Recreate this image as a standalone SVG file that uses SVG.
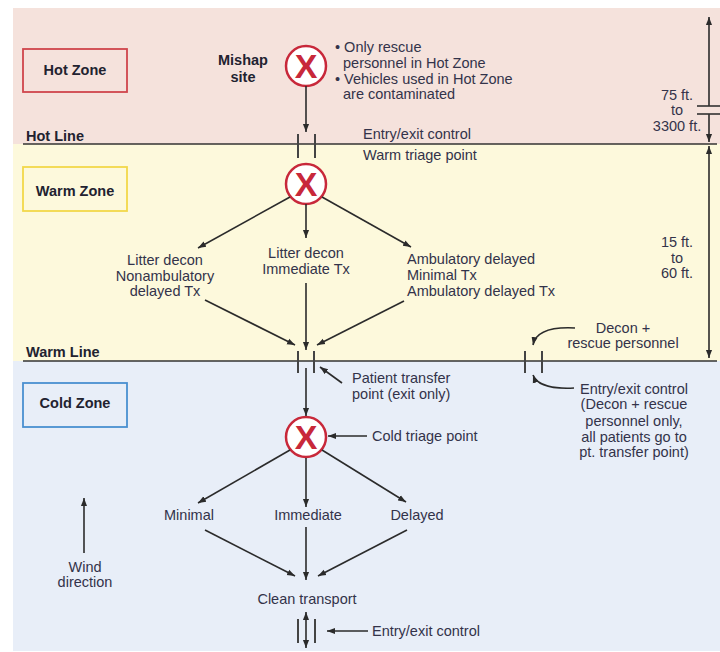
<svg xmlns="http://www.w3.org/2000/svg" width="720" height="652" viewBox="0 0 720 652">
  <defs>
    <marker id="head" viewBox="0 0 10 10" refX="10" refY="5" markerWidth="8" markerHeight="8" markerUnits="userSpaceOnUse" orient="auto">
      <path d="M0,1.2 L10,5 L0,8.8 z" fill="#2b2b2b"/>
    </marker>
    <marker id="headStart" viewBox="0 0 10 10" refX="0" refY="5" markerWidth="8" markerHeight="8" markerUnits="userSpaceOnUse" orient="auto">
      <path d="M10,1.2 L0,5 L10,8.8 z" fill="#2b2b2b"/>
    </marker>
  </defs>
  <style>
    text { font-family: "Liberation Sans", Arial, sans-serif; font-size: 14.5px; fill: #33334a; }
    .b { font-weight: bold; fill: #222230; }
    .m { text-anchor: middle; }
    .zone { fill: none; stroke-width: 1.8; }
    .line { stroke: #333; stroke-width: 1.6; fill: none; }
    .bar { stroke: #444; stroke-width: 2; }
    .arrow { stroke: #2b2b2b; stroke-width: 1.6; fill: none; marker-end: url(#head); }
    .site { fill: #fff; stroke: #c8283a; stroke-width: 2.5; }
    .x { font-weight: bold; font-size: 34px; fill: #c8283a; text-anchor: middle; }
  </style>

  <!-- zone backgrounds -->
  <rect x="13" y="8" width="707" height="136" fill="#f5e2dc"/>
  <rect x="13" y="144" width="707" height="217" fill="#fdf9dc"/>
  <rect x="13" y="361" width="707" height="290" fill="#e8eef8"/>

  <!-- zone boundary lines -->
  <line class="line" x1="23" y1="144" x2="717" y2="144"/>
  <line class="line" x1="23" y1="361" x2="717" y2="361"/>
  <text class="b" x="26" y="141">Hot Line</text>
  <text class="b" x="26" y="357">Warm Line</text>

  <!-- zone labels -->
  <g id="hot-zone">
    <rect class="zone" x="23" y="49" width="104" height="43" stroke="#d0454c"/>
    <text class="b m" x="75" y="75">Hot Zone</text>
  </g>
  <g id="warm-zone">
    <rect class="zone" x="23" y="167" width="104" height="44" stroke="#f2d84a"/>
    <text class="b m" x="75" y="196">Warm Zone</text>
  </g>
  <g id="cold-zone">
    <rect class="zone" x="23" y="383" width="104" height="44" stroke="#4a8fd0"/>
    <text class="b m" x="75" y="408">Cold Zone</text>
  </g>

  <!-- mishap site -->
  <g id="mishap-site">
    <text class="b m" x="243" y="65">Mishap</text>
    <text class="b m" x="243" y="82">site</text>
    <circle class="site" cx="306" cy="66" r="20"/>
    <text class="x" x="306" y="78">X</text>
    <text x="335" y="52">• Only rescue</text>
    <text x="343" y="68">personnel in Hot Zone</text>
    <text x="335" y="84">• Vehicles used in Hot Zone</text>
    <text x="343" y="99">are contaminated</text>
  </g>

  <!-- hot line gate -->
  <g id="hot-gate">
    <line class="bar" x1="298" y1="134" x2="298" y2="158"/>
    <line class="bar" x1="315" y1="134" x2="315" y2="158"/>
    <text x="363" y="139">Entry/exit control</text>
    <text x="363" y="160">Warm triage point</text>
  </g>

  <!-- warm triage point -->
  <g id="warm-triage">
    <circle class="site" cx="306" cy="184" r="20"/>
    <text class="x" x="306" y="196">X</text>
  </g>

  <g id="warm-left">
    <text class="m" x="165" y="265">Litter decon</text>
    <text class="m" x="165" y="281">Nonambulatory</text>
    <text class="m" x="165" y="296">delayed Tx</text>
  </g>
  <g id="warm-middle">
    <text class="m" x="306" y="258">Litter decon</text>
    <text class="m" x="306" y="274">Immediate Tx</text>
  </g>
  <g id="warm-right">
    <text x="407" y="264">Ambulatory delayed</text>
    <text x="407" y="280">Minimal Tx</text>
    <text x="407" y="296">Ambulatory delayed Tx</text>
  </g>

  <!-- warm line gates -->
  <g id="transfer-gate">
    <line class="bar" x1="298" y1="351" x2="298" y2="373"/>
    <line class="bar" x1="314" y1="351" x2="314" y2="373"/>
    <text x="352" y="383">Patient transfer</text>
    <text x="352" y="399">point (exit only)</text>
  </g>
  <g id="decon-gate">
    <line class="bar" x1="525" y1="351" x2="525" y2="373"/>
    <line class="bar" x1="542" y1="351" x2="542" y2="373"/>
    <text class="m" x="623" y="333">Decon +</text>
    <text class="m" x="623" y="348">rescue personnel</text>
    <text class="m" x="634" y="394">Entry/exit control</text>
    <text class="m" x="634" y="409">(Decon + rescue</text>
    <text class="m" x="634" y="426">personnel only,</text>
    <text class="m" x="634" y="442">all patients go to</text>
    <text class="m" x="634" y="457">pt. transfer point)</text>
  </g>

  <!-- cold triage point -->
  <g id="cold-triage">
    <circle class="site" cx="306" cy="437" r="20"/>
    <text class="x" x="306" y="449">X</text>
    <text x="372" y="441">Cold triage point</text>
  </g>

  <g id="minimal"><text class="m" x="189" y="520">Minimal</text></g>
  <g id="immediate"><text class="m" x="308" y="520">Immediate</text></g>
  <g id="delayed"><text class="m" x="417" y="520">Delayed</text></g>

  <g id="clean-transport">
    <text class="m" x="307" y="604">Clean transport</text>
    <line class="bar" x1="298" y1="619" x2="298" y2="643"/>
    <line class="bar" x1="315" y1="619" x2="315" y2="643"/>
    <text x="372" y="636">Entry/exit control</text>
  </g>

  <g id="wind">
    <text class="m" x="85" y="572">Wind</text>
    <text class="m" x="85" y="587">direction</text>
  </g>

  <!-- distance scales -->
  <g id="hot-distance">
    <text class="m" x="677" y="100">75 ft.</text>
    <text class="m" x="677" y="115">to</text>
    <text class="m" x="677" y="131">3300 ft.</text>
  </g>
  <g id="warm-distance">
    <text class="m" x="677" y="247">15 ft.</text>
    <text class="m" x="677" y="263">to</text>
    <text class="m" x="677" y="278">60 ft.</text>
  </g>

  <!-- connectors -->
  <g id="connectors">
    <line class="arrow" x1="306" y1="86" x2="306" y2="132"/>

    <line class="arrow" x1="290" y1="197" x2="198" y2="248"/>
    <line class="arrow" x1="306" y1="204" x2="306" y2="238"/>
    <line class="arrow" x1="322" y1="197" x2="411" y2="247"/>

    <line class="arrow" x1="205" y1="300" x2="295" y2="345"/>
    <line class="arrow" x1="306" y1="283" x2="306" y2="350"/>
    <line class="arrow" x1="404" y1="301" x2="317" y2="345"/>

    <line class="arrow" x1="306" y1="368" x2="306" y2="416"/>
    <line class="arrow" x1="342" y1="383" x2="320" y2="367"/>
    <path class="arrow" d="M575,328 C556,327 536,330 533,345"/>
    <path class="arrow" d="M574,388 C555,389 537,386 533,375"/>
    <line class="arrow" x1="367" y1="436" x2="328" y2="436"/>

    <line class="arrow" x1="290" y1="450" x2="198" y2="503"/>
    <line class="arrow" x1="306" y1="458" x2="306" y2="507"/>
    <line class="arrow" x1="322" y1="450" x2="406" y2="502"/>

    <line class="arrow" x1="205" y1="530" x2="295" y2="576"/>
    <line class="arrow" x1="306" y1="527" x2="306" y2="580"/>
    <line class="arrow" x1="407" y1="530" x2="318" y2="576"/>

    <line class="arrow" x1="306" y1="612" x2="306" y2="648" marker-start="url(#headStart)"/>
    <line class="arrow" x1="368" y1="631" x2="327" y2="631"/>

    <line class="arrow" x1="84" y1="553" x2="84" y2="498"/>

    <!-- distance scale arrows -->
    <line class="arrow" x1="709" y1="106" x2="709" y2="17"/>
    <line class="arrow" x1="709" y1="114" x2="709" y2="142"/>
    <line class="line" x1="697" y1="106" x2="720" y2="106"/>
    <line class="line" x1="697" y1="114" x2="720" y2="114"/>
    <line class="arrow" x1="709" y1="250" x2="709" y2="146"/>
    <line class="arrow" x1="709" y1="250" x2="709" y2="358"/>
  </g>
</svg>
